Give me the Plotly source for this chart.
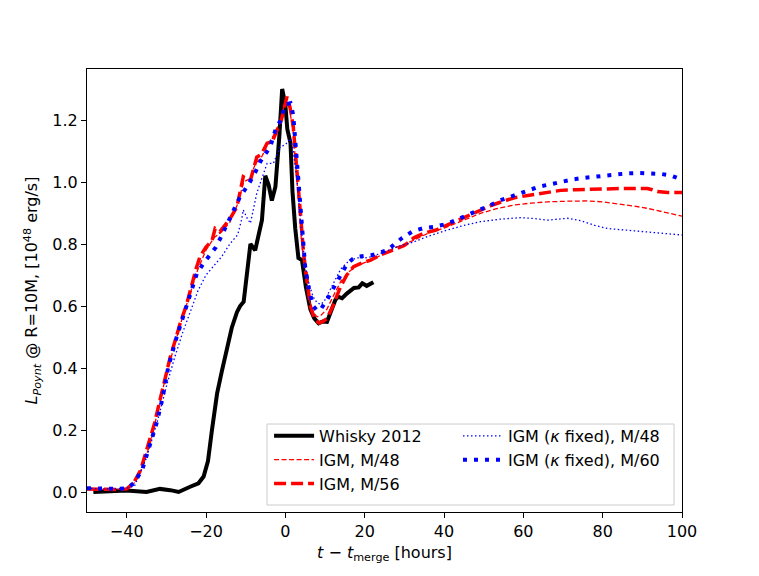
import plotly.graph_objects as go

# ---------------- data ----------------
whisky_t = [-48.4, -44, -40, -35, -31.6, -29, -26.9, -24, -21.9, -20.6, -19.5, -18.5, -17.2, -16, -14.7,
            -13.5, -12.2, -11.4, -10.5, -9.5, -8.8, -7.6, -5.9, -5.05, -4.2, -3.4, -2.5, -1.5, -0.8, 0.0,
            0.5, 1.3, 1.8, 2.5, 3.3, 4.2, 5.2, 6.3, 7.3, 8.4, 9.4, 10.5, 11.5, 12.6, 13.3, 14.3, 15.5,
            17.3, 18.5, 19.4, 20.5, 21.3, 22.2]
whisky_y = [0.0, 0.002, 0.005, 0.0, 0.01, 0.006, 0.0, 0.017, 0.028, 0.05, 0.1, 0.2, 0.318, 0.39, 0.469,
            0.53, 0.58, 0.6, 0.614, 0.72, 0.80, 0.78, 0.877, 1.02, 0.99, 0.94, 0.985, 1.15, 1.30, 1.25,
            1.17, 1.126, 0.97, 0.85, 0.755, 0.748, 0.66, 0.59, 0.56, 0.544, 0.55, 0.549, 0.58, 0.619, 0.63,
            0.625, 0.64, 0.658, 0.66, 0.673, 0.665, 0.672, 0.677]

igm48_t = [-50, -45, -40, -38, -36, -34, -32, -30, -28, -26, -24, -22, -20, -18, -16, -14, -12, -10.5, -9,
           -7.5, -6, -4.5, -3, -1.5, 0, 1, 2, 3, 4, 5, 6, 7, 8, 9, 10.5, 12, 14, 16, 18, 20, 22, 25, 28, 32,
           36, 40.8, 45, 49.2, 53, 57.7, 62, 66.1, 71, 76.2, 80, 84.6, 88, 91.3, 95, 100]
igm48_y = [0.01, 0.008, 0.01, 0.03, 0.08, 0.16, 0.27, 0.38, 0.47, 0.56, 0.64, 0.72, 0.78, 0.82, 0.84, 0.87,
           0.93, 1.0, 1.01, 1.06, 1.08, 1.12, 1.15, 1.19, 1.26, 1.24, 1.16, 1.0, 0.82, 0.7, 0.62, 0.58, 0.565,
           0.57, 0.59, 0.63, 0.68, 0.71, 0.73, 0.74, 0.75, 0.77, 0.79, 0.81, 0.835, 0.855, 0.878, 0.899, 0.913,
           0.926, 0.932, 0.936, 0.938, 0.939, 0.936, 0.929, 0.922, 0.915, 0.905, 0.89]

igm56_t = [-50, -45, -42, -40, -38.3, -36.5, -34.9, -33, -31.6, -30, -29, -27.5, -26.5, -25, -24, -22.5,
           -21.5, -20, -18.5, -17.7, -16.5, -15.6, -14, -12.2, -11.3, -10.6, -9.6, -8.8, -7.2, -6, -4.6,
           -3.3, -2.1, -1, 0.4, 1.2, 2.0, 3.0, 3.8, 4.6, 5.5, 6.3, 7.3, 8.5, 9.5, 10.5, 12, 13.9, 15.5, 17.2,
           19.5, 21.5, 24, 27.3, 30, 32.4, 35, 38, 40.8, 45, 49.2, 52, 55.9, 58, 61.9, 65, 69.4, 73, 77, 81,
           84.6, 88, 91.3, 92.5, 93.8, 96.4, 100]
igm56_y = [0.01, 0.008, 0.008, 0.01, 0.028, 0.07, 0.135, 0.22, 0.297, 0.38, 0.436, 0.5, 0.545, 0.6, 0.65,
           0.72, 0.76, 0.79, 0.81, 0.85, 0.84, 0.855, 0.88, 0.92, 0.97, 1.017, 1.01, 1.006, 1.08, 1.09, 1.125,
           1.13, 1.167, 1.2, 1.275, 1.24, 1.178, 1.04, 0.9, 0.77, 0.67, 0.6, 0.56, 0.545, 0.55, 0.56, 0.6,
           0.662, 0.7, 0.727, 0.74, 0.748, 0.765, 0.78, 0.795, 0.82, 0.835, 0.845, 0.861, 0.885, 0.91, 0.925,
           0.942, 0.95, 0.958, 0.965, 0.973, 0.975, 0.977, 0.978, 0.979, 0.979, 0.979, 0.975, 0.969, 0.966,
           0.966]

kap48_t = [-50, -45, -40, -38, -35, -32, -30, -28, -26, -24, -22, -20, -18, -16, -14, -12, -11, -10.6, -9.5,
           -8.8, -7.2, -4.6, -3, -1.3, 0, 1.3, 2, 3, 4, 5, 6, 7, 8, 9, 10, 12, 14, 16, 18, 20, 22, 25, 28,
           32.4, 36, 40.8, 45, 49.2, 54, 59.3, 63, 66.1, 71.1, 74.5, 78, 81.2, 86, 91.3, 96, 100]
kap48_y = [0.012, 0.01, 0.012, 0.02, 0.11, 0.24, 0.34, 0.43, 0.51, 0.58, 0.65, 0.7, 0.73, 0.76, 0.8, 0.83,
           0.88, 0.91, 0.88, 0.867, 0.964, 1.06, 1.06, 1.114, 1.12, 1.14, 1.1, 1.0, 0.85, 0.73, 0.67, 0.63,
           0.61, 0.605, 0.62, 0.67, 0.72, 0.745, 0.755, 0.755, 0.76, 0.775, 0.79, 0.807, 0.825, 0.845, 0.86,
           0.872, 0.88, 0.885, 0.882, 0.877, 0.883, 0.875, 0.86, 0.85, 0.845, 0.84, 0.835, 0.829]

kap60_t = [-50, -45, -42, -40, -38, -36, -34, -32.5, -31, -29.5, -27.4, -25.5, -24, -22.3, -20.5, -19.4,
           -17.5, -16.4, -14.5, -13, -11.5, -9.7, -8, -6.3, -5, -3.8, -2.1, -1.3, 0, 1.3, 2, 2.9, 3.8, 5, 6,
           7, 8, 8.8, 10.5, 12, 13, 14.3, 15.6, 17, 18.1, 20, 22.2, 25.7, 27.5, 29.5, 32, 34.5, 37.4, 40.8,
           43.5, 46.7, 49, 51.8, 54, 56.8, 59, 61.9, 64, 66.9, 70, 72.8, 75, 77.9, 80, 83, 86.3, 89, 91.3,
           94.7, 97.2, 99.7]
kap60_y = [0.012, 0.01, 0.01, 0.012, 0.03, 0.075, 0.157, 0.22, 0.3, 0.404, 0.5, 0.58, 0.64, 0.705, 0.74,
           0.76, 0.79, 0.818, 0.87, 0.915, 0.95, 0.985, 1.02, 1.066, 1.09, 1.114, 1.184, 1.195, 1.25, 1.254,
           1.216, 1.08, 0.93, 0.727, 0.65, 0.6, 0.585, 0.587, 0.62, 0.655, 0.678, 0.71, 0.737, 0.752, 0.759,
           0.762, 0.765, 0.78, 0.8, 0.82, 0.84, 0.85, 0.855, 0.865, 0.88, 0.897, 0.91, 0.926, 0.94, 0.953,
           0.965, 0.976, 0.985, 0.993, 1.002, 1.009, 1.013, 1.017, 1.02, 1.023, 1.028, 1.029, 1.028, 1.026,
           1.021, 1.009]

labels = ["Whisky 2012", "IGM, M/48", "IGM, M/56",
          "IGM (<i>κ</i> fixed), M/48", "IGM (<i>κ</i> fixed), M/60"]
x_ticks = [-40, -20, 0, 20, 40, 60, 80, 100]
y_ticks = [0.0, 0.2, 0.4, 0.6, 0.8, 1.0, 1.2]

# ---------------- figure ----------------
FONT = "DejaVu Sans"
fig = go.Figure()
fig.add_trace(go.Scatter(x=whisky_t, y=whisky_y, mode="lines", name=labels[0], legend="legend",
                         line=dict(color="black", width=4)))
fig.add_trace(go.Scatter(x=igm48_t, y=igm48_y, mode="lines", name=labels[1], legend="legend",
                         line=dict(color="red", width=1.3, dash="5px,2.5px")))
fig.add_trace(go.Scatter(x=igm56_t, y=igm56_y, mode="lines", name=labels[2], legend="legend",
                         line=dict(color="red", width=3.5, dash="12px,5px")))
fig.add_trace(go.Scatter(x=kap48_t, y=kap48_y, mode="lines", name=labels[3], legend="legend2",
                         line=dict(color="blue", width=1.3, dash="1.5px,2.5px")))
fig.add_trace(go.Scatter(x=kap60_t, y=kap60_y, mode="lines", name=labels[4], legend="legend2",
                         line=dict(color="blue", width=4, dash="4px,7px")))

axis_common = dict(showline=True, linecolor="black", linewidth=1, mirror=True,
                   ticks="outside", ticklen=5, tickwidth=1, tickcolor="black",
                   showgrid=False, zeroline=False,
                   tickfont=dict(family=FONT, size=16, color="black"))

legend_common = dict(orientation="v", yanchor="top", xanchor="left", y=0.21,
                     bgcolor="rgba(0,0,0,0)", borderwidth=0, itemwidth=40,
                     font=dict(family=FONT, size=16, color="black"))

fig.update_layout(
    width=759, height=576,
    margin=dict(l=79, r=85, t=61, b=72),
    paper_bgcolor="white", plot_bgcolor="white",
    font=dict(family=FONT, size=16, color="black"),
    xaxis=dict(range=[-50, 100], tickvals=x_ticks,
               title=dict(text="<i>t</i> − <i>t</i><sub>merge</sub> [hours]",
                          font=dict(family=FONT, size=16), standoff=6),
               **axis_common),
    yaxis=dict(range=[-0.0645, 1.3645], tickvals=y_ticks, tickformat=".1f",
               title=dict(text="<i>L</i><sub><i>Poynt</i></sub> @ R=10M, [10<sup>48</sup> erg/s]",
                          font=dict(family=FONT, size=16), standoff=10),
               **axis_common),
    legend=dict(x=0.306, **legend_common),
    legend2=dict(x=0.6235, **legend_common),
    shapes=[dict(type="rect", xref="paper", yref="paper", x0=0.3025, x1=0.9866, y0=0.0158, y1=0.1986,
                 fillcolor="rgba(255,255,255,0.8)", line=dict(color="#cccccc", width=1), layer="above")],
)

fig.write_html("out.html")
